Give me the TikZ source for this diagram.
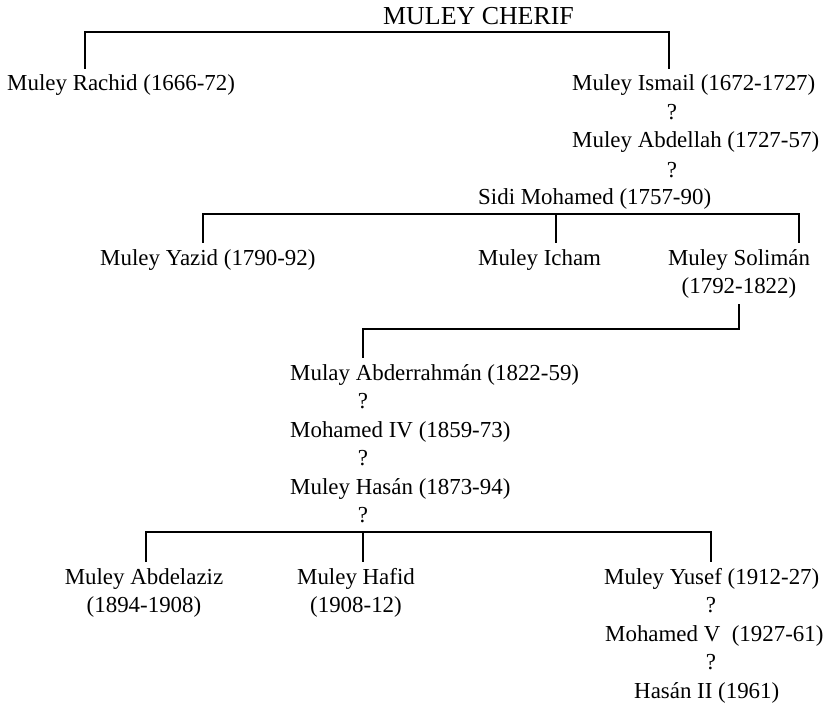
\documentclass[tikz,border=0pt]{standalone}
\usepackage{fontspec}
\setmainfont{Liberation Serif}
\usepackage{tikz}
\usetikzlibrary{positioning}

\begin{document}
\begin{tikzpicture}[
            x=1bp, y=1bp,
            person/.style={anchor=base west, inner xsep=0pt, inner ysep=6bp, font=\fontsize{23}{28}\selectfont},
            pair/.style={anchor=north, align=center, inner xsep=0pt, inner ysep=6bp, font=\fontsize{23}{28}\selectfont},
            qmark/.style={anchor=base, inner sep=0pt, font=\fontsize{23}{28}\selectfont},
            link/.style={-, line width=2bp}
        ]
        \useasboundingbox (0,0) rectangle (832,-707);

        % Nodes (manual layout to match figure)
        \node[person, font=\fontsize{26}{30}\selectfont] (cherif) at (383,-25) {MULEY CHERIF};
        \node[person] (rachid) at (7,-91) {Muley Rachid (1666-72)};
        \node[person] (ismail) at (572,-91) {Muley Ismail (1672-1727)};
        \node[qmark] (q1) at (672,-120) {?};
        \node[person] (abdellah) at (572,-148) {Muley Abdellah (1727-57)};
        \node[qmark] (q2) at (672,-177) {?};
        \node[person] (sidi) at (478,-204) {Sidi Mohamed (1757-90)};

        \node[person] (yazid) at (100,-265) {Muley Yazid (1790-92)};
        \node[person] (icham) at (478,-265) {Muley Icham};
        \node[pair] (soliman) at (739,-243) {Muley Solimán\\(1792-1822)};

        \node[person] (abder) at (290,-380) {Mulay Abderrahmán (1822-59)};
        \node[qmark] (q3) at (363,-408.5) {?};
        \node[person] (mohamed4) at (290,-437) {Mohamed IV (1859-73)};
        \node[qmark] (q4) at (363,-465.5) {?};
        \node[person] (hasan) at (290,-494) {Muley Hasán (1873-94)};
        \node[qmark] (q5) at (363,-522.5) {?};

        \node[pair] (abdelaziz) at (144,-562) {Muley Abdelaziz\\(1894-1908)};
        \node[pair] (hafid) at (356,-562) {Muley Hafid\\(1908-12)};
        \node[person] (yusef) at (604,-584) {Muley Yusef (1912-27)};
        \node[qmark] (q6) at (711,-612.5) {?};
        \node[person] (mohamed5) at (605,-641) {Mohamed V~~(1927-61)};
        \node[qmark] (q7) at (711,-669.5) {?};
        \node[person] (hasan2) at (634,-698) {Hasán II (1961)};

        % Bars
        \coordinate (bar1w) at (85,-32);
        \coordinate (bar1e) at (669,-32);
        \coordinate (bar2w) at (203,-214);
        \coordinate (bar2m) at (556,-214);
        \coordinate (bar2e) at (799,-214);
        \coordinate (bar3w) at (363,-329);
        \coordinate (bar3e) at (739,-329);
        \coordinate (bar4w) at (146,-532);
        \coordinate (bar4m) at (363,-532);
        \coordinate (bar4e) at (711,-532);

        % Edges
        \draw[link] (rachid.north -| bar1w) |- (bar1e) -- (ismail.north -| bar1e);
        \draw[link] (yazid.north -| bar2w) |- (bar2e) -- (soliman.north -| bar2e);
        \draw[link] (bar2m) -- (icham.north -| bar2m);
        \draw[link] (soliman.south -| bar3e) |- (bar3w) -- (abder.north -| bar3w);
        \draw[link] (abdelaziz.north -| bar4w) |- (bar4e) -- (yusef.north -| bar4e);
        \draw[link] (bar4m) -- (hafid.north -| bar4m);

    \end{tikzpicture}
\end{document}
